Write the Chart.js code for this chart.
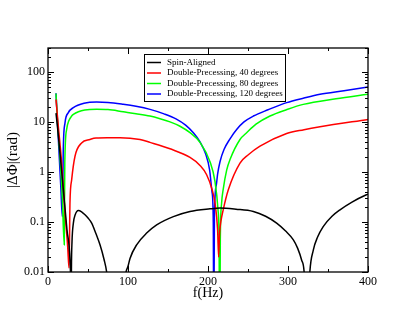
<!DOCTYPE html>
<html>
<head>
<meta charset="utf-8">
<script src="https://cdn.jsdelivr.net/npm/chart.js@4"></script>
<style>
  body { margin: 0; background: #fff; }
  canvas { display: block; }
</style>
</head>
<body>
<canvas id="myChart" width="415" height="321"></canvas>
<script>
// values
const alignedFreq = [10, 12, 14.6, 19.2, 23.75, 27.5, 28.3, 28.8, 29.3, 30, 31.7, 34, 37.9, 42, 46.25, 50, 54.6, 60, 65, 70, 73.5, 85, 97.3, 100, 102.5, 110.8, 123.3, 135.8, 156.7, 177.5, 202.5, 215, 235, 256.7, 272, 285.8, 297, 306.7, 312, 317, 320.5, 323.5, 327, 331.7, 337, 344, 355, 365, 380, 398, 400];
const alignedPhase = [15, 7.5, 2.8, 0.44, 0.069, 0.0175, 0.006, 0.0005, 0.012, 0.04, 0.095, 0.14, 0.17, 0.16, 0.139, 0.12, 0.095, 0.058, 0.035, 0.018, 0.0095, 0.0001, 0.0095, 0.013, 0.0187, 0.035, 0.06, 0.0875, 0.128, 0.162, 0.183, 0.19, 0.18, 0.162, 0.13, 0.095, 0.066, 0.044, 0.03, 0.0174, 0.0085, 0.0003, 0.0085, 0.0276, 0.05, 0.081, 0.13, 0.175, 0.25, 0.35, 0.36];

const prec40Freq = [10, 12.9, 17.1, 21.25, 24.6, 26.3, 27.5, 29.6, 33.75, 42, 52.5, 60, 77.5, 90, 115, 127.5, 152.5, 177.5, 190, 198.3, 205, 208.75, 212, 213.3, 214.5, 216, 219, 225.4, 240, 250.4, 265, 298.3, 320, 340, 400];
const prec40Phase = [28, 8.2, 1.5, 0.15, 0.032, 0.012, 0.25, 0.7, 2.06, 3.8, 4.45, 4.75, 4.8, 4.85, 4.45, 3.9, 2.9, 1.95, 1.35, 0.88, 0.45, 0.24, 0.07, 0.02, 0.06, 0.1, 0.175, 0.44, 1.5, 2.2, 3.27, 5.87, 7.0, 8.0, 11.2];

const prec80Freq = [10, 12, 15, 17.9, 20.3, 21, 23.3, 26, 29.6, 31.7, 38, 46, 60.8, 75, 94, 110, 127.5, 140, 152.5, 165, 177.5, 190, 202.5, 208.75, 212.6, 213.8, 214.6, 215.4, 217, 219, 223.4, 227.5, 240, 248.3, 260, 277.5, 298, 319, 360, 400];
const prec80Phase = [37, 9.8, 2.0, 0.3, 0.035, 1.5, 7.1, 10.5, 13.1, 14.1, 16, 17.3, 17.8, 17.6, 15.9, 14.6, 13.1, 11.6, 10.0, 8.2, 6.1, 3.9, 1.6, 0.64, 0.17, 0.05, 0.0003, 0.045, 0.24, 0.45, 1.1, 1.77, 4.45, 6.07, 9, 13.1, 17.5, 22.4, 29, 35.6];

const prec120Freq = [10, 12, 14, 16, 17.9, 19.2, 21.25, 25.4, 31.7, 45, 60.8, 75, 94, 110, 127.5, 145, 160, 172, 182, 190, 197, 202, 205, 206.6, 207.2, 208, 210.4, 212, 215, 220, 227.5, 235.8, 245, 256.7, 275, 298.3, 320, 340, 370, 400];
const prec120Phase = [37.3, 8.9, 2.1, 0.5, 0.128, 3.27, 9.6, 15.3, 19.3, 23.5, 24.9, 24.5, 22.5, 20.5, 17.8, 14.5, 11.5, 8.6, 6.0, 4.0, 2.3, 1.1, 0.4, 0.1, 0.0003, 0.12, 0.55, 0.9, 1.6, 2.8, 4.6, 7.07, 10, 13.1, 17.5, 24.3, 30, 35.6, 42, 50];

const seriesNames = ['Spin-Aligned', 'Double-Precessing, 40 degrees', 'Double-Precessing, 80 degrees', 'Double-Precessing, 120 degrees'];
const seriesColors = ['#000000', '#ff0000', '#00ff00', '#0000ff'];

const xTicks = [0, 100, 200, 300, 400];
const yTicks = [0.01, 0.1, 1, 10, 100];
const yTickLabels = ['0.01', '0.1', '1', '10', '100'];

const serif = "'Liberation Serif', 'DejaVu Serif', serif";

function points(fs, vs) {
    return fs.map((f, i) => ({ x: f, y: vs[i] }));
}

const allFreq = [alignedFreq, prec40Freq, prec80Freq, prec120Freq];
const allPhase = [alignedPhase, prec40Phase, prec80Phase, prec120Phase];

const datasets = seriesNames.map((name, i) => ({
    label: name,
    data: points(allFreq[i], allPhase[i]),
    borderColor: seriesColors[i],
    backgroundColor: seriesColors[i],
    borderWidth: 1.5,
    pointRadius: 0,
    cubicInterpolationMode: 'monotone',
    fill: false
}));

// frame, inward ticks on all four sides, and the boxed legend
const gracePlugin = {
    id: 'grace',
    afterDatasetsDraw(chart) {
        const c = chart.ctx;
        const a = chart.chartArea;
        const xs = chart.scales.x;
        const ys = chart.scales.y;
        c.save();
        c.strokeStyle = '#000';
        c.lineWidth = 1;
        c.beginPath();
        for (let v = 0; v <= 400; v += 50) {
            const px = Math.round(xs.getPixelForValue(v)) + 0.5;
            const len = v % 100 === 0 ? 6 : 3;
            c.moveTo(px, a.bottom); c.lineTo(px, a.bottom - len);
            c.moveTo(px, a.top); c.lineTo(px, a.top + len);
        }
        for (let d = -2; d <= 2; d++) {
            for (let m = 1; m <= 9; m++) {
                const v = m * Math.pow(10, d);
                if (v > ys.max) continue;
                const py = Math.round(ys.getPixelForValue(v)) + 0.5;
                const len = m === 1 ? 6 : 3;
                c.moveTo(a.left, py); c.lineTo(a.left + len, py);
                c.moveTo(a.right, py); c.lineTo(a.right - len, py);
            }
        }
        c.stroke();
        c.lineWidth = 1.3;
        c.strokeRect(a.left, a.top, a.right - a.left, a.bottom - a.top);

        // legend
        const lx = 144, ly = 54, lw = 141, lh = 47;
        c.fillStyle = '#fff';
        c.fillRect(lx, ly, lw, lh);
        c.lineWidth = 1;
        c.strokeStyle = '#000';
        c.strokeRect(lx + 0.5, ly + 0.5, lw, lh);
        c.font = '9px ' + serif;
        c.textBaseline = 'middle';
        chart.data.datasets.forEach((ds, i) => {
            const y = ly + 8.5 + i * 10.5;
            c.strokeStyle = ds.borderColor;
            c.lineWidth = 1.5;
            c.beginPath();
            c.moveTo(lx + 3, y);
            c.lineTo(lx + 17, y);
            c.stroke();
            c.fillStyle = '#000';
            c.fillText(ds.label, lx + 23, y);
        });
        c.restore();
    }
};

const ctx = document.getElementById('myChart');

new Chart(ctx, {
    type: 'line',
    data: { datasets: datasets },
    options: {
        responsive: false,
        animation: false,
        layout: { padding: { left: 0, top: 48, right: 47, bottom: 0 } },
        scales: {
            x: {
                type: 'linear',
                min: 0,
                max: 400,
                grid: { display: false, drawTicks: false },
                border: { display: false },
                afterBuildTicks: scale => {
                    scale.ticks = xTicks.map(v => ({ value: v }));
                },
                afterFit: scale => {
                    scale.height = 49;
                    scale.paddingLeft = 0;
                    scale.paddingRight = 0;
                },
                ticks: {
                    color: '#000',
                    padding: 3,
                    maxRotation: 0,
                    font: { family: serif, size: 12 },
                    callback: v => String(v)
                },
                title: {
                    display: true,
                    text: 'f(Hz)',
                    color: '#000',
                    font: { family: serif, size: 14 },
                    padding: { top: 0, bottom: 19 }
                }
            },
            y: {
                type: 'logarithmic',
                min: 0.01,
                max: 300,
                grid: { display: false, drawTicks: false },
                border: { display: false },
                afterBuildTicks: scale => {
                    scale.ticks = yTicks.map(v => ({ value: v }));
                },
                afterFit: scale => {
                    scale.width = 48;
                    scale.paddingTop = 0;
                    scale.paddingBottom = 0;
                },
                ticks: {
                    color: '#000',
                    padding: 3,
                    font: { family: serif, size: 12 },
                    callback: v => yTickLabels[yTicks.indexOf(v)] ?? ''
                },
                title: {
                    display: true,
                    text: '|ΔΦ|(rad)',
                    color: '#000',
                    font: { family: serif, size: 15 },
                    padding: { top: 4, bottom: 0 }
                }
            }
        },
        plugins: {
            legend: { display: false },
            tooltip: { enabled: false }
        }
    },
    plugins: [gracePlugin]
});
</script>
</body>
</html>
